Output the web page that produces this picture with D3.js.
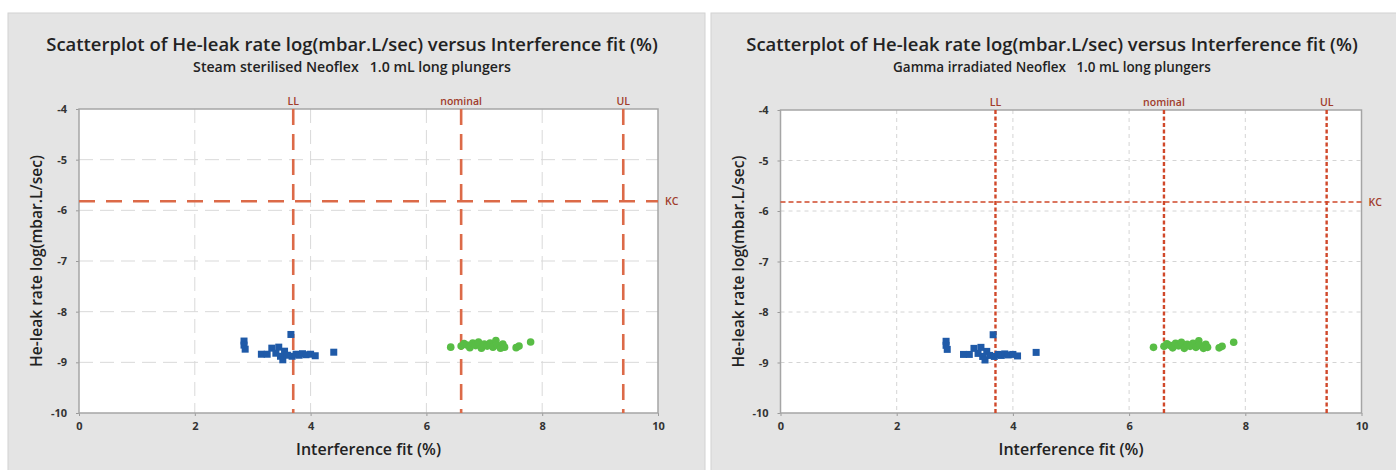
<!DOCTYPE html>
<html><head><meta charset="utf-8">
<script src="https://cdn.jsdelivr.net/npm/d3@7"></script>
<style>body{margin:0;background:#fff;} svg{display:block} text{font-family:"Open Sans","DejaVu Sans",sans-serif;}</style>
</head><body><svg id="c" width="1396" height="470"></svg>
<script>
// ---- data ----
const titleText = "Scatterplot of He-leak rate log(mbar.L/sec) versus Interference fit (%)";
const subtitles = ["Steam sterilised Neoflex   1.0 mL long plungers", "Gamma irradiated Neoflex   1.0 mL long plungers"];
const xLabel = "Interference fit (%)";
const yLabel = "He-leak rate log(mbar.L/sec)";
const xTicks = [0, 2, 4, 6, 8, 10];
const yTicks = [-4, -5, -6, -7, -8, -9, -10];
const refXValues = [3.7, 6.6, 9.4];
const refXLabels = ["LL", "nominal", "UL"];
const kcValue = -5.82;
const kcLabel = "KC";
// blue squares (group 1)
const blueX = [2.85, 2.85, 2.87, 3.15, 3.25, 3.33, 3.40, 3.45, 3.48, 3.52, 3.55, 3.60, 3.66, 3.68, 3.75, 3.80, 3.86, 3.92, 4.00, 4.08, 4.40];
const blueY = [-8.58, -8.66, -8.74, -8.84, -8.84, -8.72, -8.82, -8.70, -8.88, -8.95, -8.78, -8.86, -8.45, -8.88, -8.84, -8.86, -8.83, -8.85, -8.84, -8.87, -8.80];
// green circles (group 2)
const greenX = [6.42, 6.60, 6.65, 6.70, 6.75, 6.80, 6.85, 6.90, 6.95, 7.00, 7.05, 7.10, 7.15, 7.20, 7.22, 7.28, 7.32, 7.35, 7.55, 7.60, 7.80];
const greenY = [-8.70, -8.68, -8.63, -8.66, -8.71, -8.62, -8.67, -8.60, -8.72, -8.64, -8.68, -8.62, -8.70, -8.57, -8.66, -8.72, -8.64, -8.70, -8.71, -8.68, -8.60];

// ---- layout ----
const svg = d3.select("#c");
const panels = [
  {px: 8, py: 13, pw: 697, ph: 470, x0: 79, x1: 658, y0: 109, y1: 413, sub: 0, tcx: 352,
   refW: 2.6, refDash: "16,9", refColor: "#dc6a48", kcW: 2.6, kcDash: "16,11",
   gridDash: "14,7", gridColor: "#d9d9d9"},
  {px: 711, py: 13, pw: 700, ph: 470, x0: 780.5, x1: 1361.5, y0: 110, y1: 413, sub: 1, tcx: 1052,
   refW: 2.4, refDash: "4,2.5", refColor: "#d0482a", kcW: 1.5, kcDash: "5,3",
   gridDash: "4,4", gridColor: "#d4d4d4"}
];

function fitText(sel, target) {
  const w = sel.node().getComputedTextLength();
  const fs = parseFloat(sel.attr("font-size"));
  sel.attr("font-size", fs * target / w);
}

panels.forEach(p => {
  const g = svg.append("g");
  g.append("rect").attr("x", p.px).attr("y", p.py).attr("width", p.pw).attr("height", p.ph)
    .attr("fill", "#e4e4e4").attr("stroke", "#d2d2d2");
  const t = g.append("text").attr("x", p.tcx).attr("y", 51).attr("text-anchor", "middle")
    .attr("font-size", 17).attr("font-weight", 600).attr("fill", "#222").text(titleText);
  fitText(t, 612);
  const s = g.append("text").attr("x", p.tcx).attr("y", 72).attr("text-anchor", "middle")
    .attr("font-size", 13).attr("font-weight", 600).attr("fill", "#222")
    .style("white-space", "pre").text(subtitles[p.sub]);
  fitText(s, 318);

  const x = d3.scaleLinear().domain([0, 10]).range([p.x0, p.x1]);
  const y = d3.scaleLinear().domain([-10, -4]).range([p.y1, p.y0]);

  g.append("rect").attr("x", p.x0).attr("y", p.y0).attr("width", p.x1 - p.x0).attr("height", p.y1 - p.y0)
    .attr("fill", "#fff");

  // grid
  g.append("g").selectAll("line").data(xTicks.filter(d => d > 0 && d < 10)).join("line")
    .attr("x1", d => x(d)).attr("x2", d => x(d)).attr("y1", p.y0).attr("y2", p.y1)
    .attr("stroke", p.gridColor).attr("stroke-width", 1).attr("stroke-dasharray", p.gridDash);
  g.append("g").selectAll("line").data(yTicks.filter(d => d > -10 && d < -4)).join("line")
    .attr("x1", p.x0).attr("x2", p.x1).attr("y1", d => y(d)).attr("y2", d => y(d))
    .attr("stroke", p.gridColor).attr("stroke-width", 1).attr("stroke-dasharray", p.gridDash);

  // axes
  const ax = g.append("g").attr("transform", `translate(0,${p.y1})`)
    .call(d3.axisBottom(x).tickValues(xTicks).tickSize(3).tickSizeOuter(0).tickPadding(6).tickFormat(d => String(d)));
  const ay = g.append("g").attr("transform", `translate(${p.x0},0)`)
    .call(d3.axisLeft(y).tickValues(yTicks).tickSize(3).tickSizeOuter(0).tickPadding(9).tickFormat(d => String(d)));
  [ax, ay].forEach(a => {
    a.select(".domain").remove();
    a.selectAll(".tick line").attr("stroke", "#9a9a9a");
    a.selectAll(".tick text").attr("font-size", 11).attr("font-weight", 700).attr("fill", "#333")
      .attr("font-family", "'Open Sans',sans-serif");
  });
  // frame
  g.append("rect").attr("x", p.x0).attr("y", p.y0).attr("width", p.x1 - p.x0).attr("height", p.y1 - p.y0)
    .attr("fill", "none").attr("stroke", "#a5a5a5").attr("stroke-width", 1.5);

  // reference lines
  g.append("g").selectAll("line").data(refXValues).join("line")
    .attr("x1", d => x(d)).attr("x2", d => x(d)).attr("y1", p.y0).attr("y2", p.y1)
    .attr("stroke", p.refColor).attr("stroke-width", p.refW).attr("stroke-dasharray", p.refDash);
  g.append("line").attr("x1", p.x0).attr("x2", p.x1).attr("y1", y(kcValue)).attr("y2", y(kcValue))
    .attr("stroke", p.refColor).attr("stroke-width", p.kcW).attr("stroke-dasharray", p.kcDash);
  g.append("g").selectAll("text").data(refXValues).join("text")
    .attr("x", d => x(d)).attr("y", p.y0 - 4).attr("text-anchor", "middle")
    .attr("font-size", 10.5).attr("font-weight", 600).attr("fill", "#a03c2c")
    .text((d, i) => refXLabels[i]);
  g.append("text").attr("x", p.x1 + 7).attr("y", y(kcValue)).attr("dy", "0.35em")
    .attr("font-size", 10.5).attr("font-weight", 600).attr("fill", "#a03c2c").text(kcLabel);

  // points
  const sq = 7;
  g.append("g").selectAll("rect").data(blueX).join("rect")
    .attr("x", (d, i) => x(d) - sq / 2).attr("y", (d, i) => y(blueY[i]) - sq / 2)
    .attr("width", sq).attr("height", sq).attr("fill", "#1f5aa8");
  g.append("g").selectAll("circle").data(greenX).join("circle")
    .attr("cx", d => x(d)).attr("cy", (d, i) => y(greenY[i])).attr("r", 3.8).attr("fill", "#58bd45");

  // axis titles
  const xl = g.append("text").attr("x", (p.x0 + p.x1) / 2).attr("y", 455).attr("text-anchor", "middle")
    .attr("font-size", 13.5).attr("font-weight", 600).attr("fill", "#222").text(xLabel);
  fitText(xl, 145);
  const yl = g.append("text").attr("transform", `translate(${p.x0 - 37},${(p.y0 + p.y1) / 2}) rotate(-90)`)
    .attr("text-anchor", "middle").attr("font-size", 13.5).attr("font-weight", 600).attr("fill", "#222").text(yLabel);
  fitText(yl, 212);
});
</script></body></html>
